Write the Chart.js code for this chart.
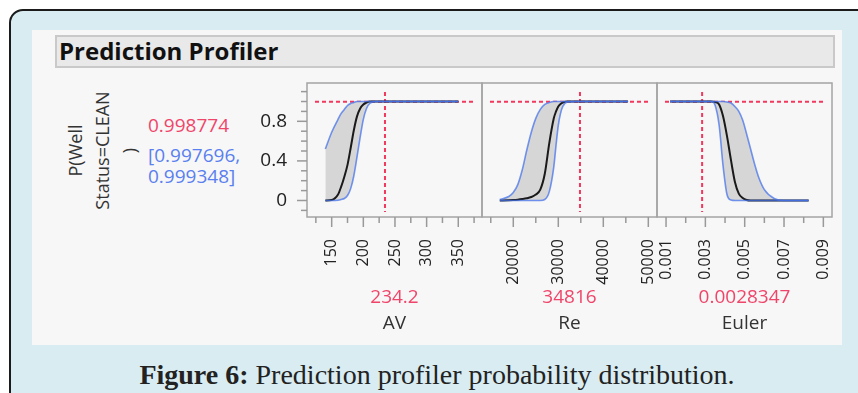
<!DOCTYPE html>
<html>
<head>
<meta charset="utf-8">
<title>Prediction Profiler</title>
<script src="https://cdn.jsdelivr.net/npm/chart.js@4.4.1/dist/chart.umd.min.js"></script>
<style>
  html, body { margin: 0; padding: 0; }
  body { width: 858px; height: 393px; overflow: hidden; position: relative; background: #fff; font-family: "Open Sans", sans-serif; }
  #frame { position: absolute; left: 9px; top: 9px; width: 900px; height: 450px; background: #d8ecf1; border: 2px solid #1b1b1b; border-radius: 14px; }
  #sheet { position: absolute; left: 32px; top: 30px; width: 810px; height: 315px; background: #f7f7f7; }
  #header { position: absolute; left: 55px; top: 35px; width: 780px; height: 33px; box-sizing: border-box; background: #e9e9e9; border: 2px solid #c9c9c9; font-weight: 700; font-size: 24px; line-height: 28px; padding-left: 2px; color: #111; }
  canvas { position: absolute; }
  .lbl { position: absolute; white-space: nowrap; font-size: 19px; line-height: 22px; }
  .red { color: #f0456a; }
  .blue { color: #5a7ff0; }
  .name { color: #333; }
  .center { transform: translateX(-50%); }
  #ytitle { position: absolute; width: 160px; height: 81px; left: 22px; top: 110px; transform: rotate(-90deg); text-align: center; font-size: 18px; line-height: 27px; color: #333; }
  #caption { position: absolute; left: 437px; top: 359px; transform: translateX(-50%); white-space: nowrap; font-family: "Liberation Serif", serif; font-size: 28px; color: #222; }
</style>
</head>
<body>
<div id="frame"></div>
<div id="sheet"></div>
<div id="header">Prediction Profiler</div>
<div id="ytitle"></div>
<div id="predValue" class="lbl red" style="left:148px; top:114px"></div>
<div id="predLow" class="lbl blue" style="left:148px; top:144px"></div>
<div id="predHigh" class="lbl blue" style="left:148px; top:165px"></div>
<canvas id="avChart" width="245" height="215" style="left:240px; top:75px"></canvas>
<canvas id="reChart" width="181" height="215" style="left:479px; top:75px"></canvas>
<canvas id="euChart" width="181" height="215" style="left:654px; top:75px"></canvas>
<div id="caption"><b>Figure 6:</b> Prediction profiler probability distribution.</div>
<script>
// Response
const responseTitle = ['P(Well', 'Status=CLEAN', ')'];
const prediction = 0.998774;
const predictionCI = [0.997696, 0.999348];
const yTicks = [-0.1, 0, 0.1, 0.2, 0.3, 0.4, 0.5, 0.6, 0.7, 0.8, 0.9, 1, 1.1];
const yTickLabels = [0, 0.4, 0.8];

// Factors
const factorNames = ['AV', 'Re', 'Euler'];
const currentValues = [234.2, 34816, 0.0028347];

// AV
const avX = [140, 150, 160, 165, 170, 175, 180, 185, 190, 195, 200, 205, 210, 220, 240, 280, 350];
const avUpper = [0.52, 0.69, 0.82, 0.88, 0.92, 0.96, 0.98, 0.99, 1, 1, 1, 1, 1, 1, 1, 1, 1];
const avMean = [0, 0.005, 0.06, 0.14, 0.24, 0.36, 0.53, 0.71, 0.85, 0.93, 0.97, 0.99, 1, 1, 1, 1, 1];
const avLower = [0, 0, 0.003, 0.01, 0.02, 0.05, 0.12, 0.25, 0.44, 0.64, 0.82, 0.93, 0.98, 1, 1, 1, 1];
const avTicks = [125, 150, 175, 200, 225, 250, 275, 300, 325, 350, 375];
const avTickLabels = [150, 200, 250, 300, 350];

// Re
const reX = [17000, 19000, 20000, 21000, 22000, 23000, 24000, 25000, 26000, 27000, 28000, 29000, 29500, 30000, 30500, 31000, 32000, 34000, 38000, 45500];
const reUpper = [0.01, 0.04, 0.08, 0.16, 0.31, 0.51, 0.69, 0.83, 0.92, 0.97, 0.99, 1, 1, 1, 1, 1, 1, 1, 1, 1];
const reMean = [0, 0.002, 0.004, 0.008, 0.014, 0.022, 0.035, 0.06, 0.11, 0.27, 0.58, 0.83, 0.9, 0.95, 0.975, 0.99, 1, 1, 1, 1];
const reLower = [0, 0, 0, 0, 0, 0, 0, 0, 0, 0.01, 0.09, 0.34, 0.56, 0.76, 0.88, 0.95, 0.995, 1, 1, 1];
const reTicks = [15000, 20000, 25000, 30000, 35000, 40000, 45000, 50000];
const reTickLabels = [20000, 30000, 40000, 50000];

// Euler
const euX = [0.0012, 0.002, 0.003, 0.0033, 0.0035, 0.0037, 0.0039, 0.0041, 0.0043, 0.0045, 0.0047, 0.0049, 0.0051, 0.0053, 0.0055, 0.0057, 0.006, 0.0065, 0.007, 0.0075, 0.00825];
const euUpper = [1, 1, 1, 1, 1, 1, 1, 0.995, 0.985, 0.95, 0.9, 0.81, 0.67, 0.52, 0.37, 0.24, 0.11, 0.02, 0, 0, 0];
const euMean = [1, 1, 1, 1, 0.995, 0.97, 0.85, 0.65, 0.41, 0.19, 0.07, 0.025, 0.005, 0, 0, 0, 0, 0, 0, 0, 0];
const euLower = [1, 1, 1, 1, 0.96, 0.76, 0.35, 0.06, 0.005, 0, 0, 0, 0, 0, 0, 0, 0, 0, 0, 0, 0];
const euTicks = [0.001, 0.002, 0.003, 0.004, 0.005, 0.006, 0.007, 0.008, 0.009];
const euTickLabels = [0.001, 0.003, 0.005, 0.007, 0.009];

Chart.defaults.font.family = '"Open Sans", sans-serif';
Chart.defaults.color = '#222';

const blue = 'rgba(70,115,235,0.75)';
const red = '#f2385c';

// Panel frame, tick marks and the red crosshair
const profilerFrame = {
    id: 'profilerFrame',
    beforeDatasetsDraw(chart, args, opts) {
        const { ctx, chartArea: a, scales: { x, y } } = chart;
        ctx.save();
        ctx.strokeStyle = red;
        ctx.lineWidth = 2;
        ctx.setLineDash([4, 3]);
        const py = y.getPixelForValue(opts.pred);
        ctx.beginPath(); ctx.moveTo(a.left + 8, py); ctx.lineTo(a.right - 8, py); ctx.stroke();
        const px = x.getPixelForValue(opts.current);
        ctx.beginPath(); ctx.moveTo(px, a.top + 9); ctx.lineTo(px, a.bottom - 5); ctx.stroke();
        ctx.restore();
    },
    afterDraw(chart, args, opts) {
        const { ctx, chartArea: a, scales: { x, y } } = chart;
        ctx.save();
        ctx.strokeStyle = '#a4a4a4';
        ctx.lineWidth = 1.5;
        ctx.strokeRect(a.left, a.top, a.right - a.left, a.bottom - a.top);
        ctx.strokeStyle = '#999';
        x.ticks.forEach(t => {
            const px = x.getPixelForValue(t.value);
            ctx.beginPath(); ctx.moveTo(px, a.bottom); ctx.lineTo(px, a.bottom + (t.label ? 10 : 6)); ctx.stroke();
        });
        if (opts.yTicks) {
            y.ticks.forEach(t => {
                const py = y.getPixelForValue(t.value);
                ctx.beginPath(); ctx.moveTo(a.left, py); ctx.lineTo(a.left - (t.label ? 10 : 6), py); ctx.stroke();
            });
        }
        ctx.restore();
    }
};

function pts(xs, ys) {
    return xs.map((v, i) => ({ x: v, y: ys[i] }));
}

function makeProfile(id, xs, upper, mean, lower, range, ticks, tickLabels, current, showY, pad) {
    const line = { pointRadius: 0, cubicInterpolationMode: 'monotone', fill: false };
    return new Chart(document.getElementById(id), {
        type: 'line',
        data: {
            datasets: [
                { ...line, data: pts(xs, upper), fill: '+1', backgroundColor: '#d6d6d6', borderColor: 'rgba(0,0,0,0)', borderWidth: 0, order: 5 },
                { ...line, data: pts(xs, lower), borderColor: 'rgba(0,0,0,0)', borderWidth: 0, order: 4 },
                { ...line, data: pts(xs, mean), borderColor: '#1a1a1a', borderWidth: 2, order: 3 },
                { ...line, data: pts(xs, upper), borderColor: blue, borderWidth: 1.6, order: 2 },
                { ...line, data: pts(xs, lower), borderColor: blue, borderWidth: 1.6, order: 1 }
            ]
        },
        options: {
            responsive: false,
            animation: false,
            devicePixelRatio: 1,
            layout: { padding: { top: 8, left: pad[0], right: pad[1], bottom: 0 } },
            plugins: {
                legend: { display: false },
                tooltip: { enabled: false },
                profilerFrame: { pred: prediction, current: current, yTicks: showY }
            },
            scales: {
                x: {
                    type: 'linear', min: range[0], max: range[1],
                    grid: { display: false }, border: { display: false },
                    afterBuildTicks: s => { s.ticks = ticks.map(v => ({ value: v })); },
                    ticks: {
                        autoSkip: false, minRotation: 90, maxRotation: 90, padding: 14,
                        font: { size: 16 }, color: '#222',
                        callback: v => tickLabels.includes(v) ? String(v) : ''
                    },
                    afterFit: s => { s.height = 73; s.paddingLeft = 0; s.paddingRight = 0; }
                },
                y: {
                    type: 'linear', min: -0.1667, max: 1.187, display: showY,
                    grid: { display: false }, border: { display: false },
                    afterBuildTicks: s => { s.ticks = yTicks.map(v => ({ value: v })); },
                    ticks: {
                        autoSkip: false, padding: 12, font: { size: 19 }, color: '#222',
                        callback: v => yTickLabels.includes(v) ? String(v) : ''
                    },
                    afterFit: s => { s.width = showY ? 67 : 0; s.paddingTop = 0; s.paddingBottom = 0; }
                }
            }
        },
        plugins: [profilerFrame]
    });
}

document.getElementById('ytitle').innerHTML = responseTitle.join('<br>');
document.getElementById('predValue').textContent = String(prediction);
document.getElementById('predLow').textContent = '[' + predictionCI[0] + ',';
document.getElementById('predHigh').textContent = predictionCI[1] + ']';

const charts = [
    makeProfile('avChart', avX, avUpper, avMean, avLower, [111, 387.5], avTicks, avTickLabels, currentValues[0], true, [0, 3]),
    makeProfile('reChart', reX, reUpper, reMean, reLower, [13050, 51930], reTicks, reTickLabels, currentValues[1], false, [3, 3]),
    makeProfile('euChart', euX, euUpper, euMean, euLower, [0.00054, 0.00944], euTicks, euTickLabels, currentValues[2], false, [3, 3])
];

// value and factor name under each panel
charts.forEach((c, i) => {
    const cx = c.canvas.offsetLeft + (c.chartArea.left + c.chartArea.right) / 2;
    const v = document.createElement('div');
    v.className = 'lbl red center';
    v.style.left = cx + 'px';
    v.style.top = '285px';
    v.textContent = String(currentValues[i]);
    document.body.appendChild(v);
    const n = document.createElement('div');
    n.className = 'lbl name center';
    n.style.left = cx + 'px';
    n.style.top = '311px';
    n.textContent = factorNames[i];
    document.body.appendChild(n);
});
</script>
</body>
</html>
